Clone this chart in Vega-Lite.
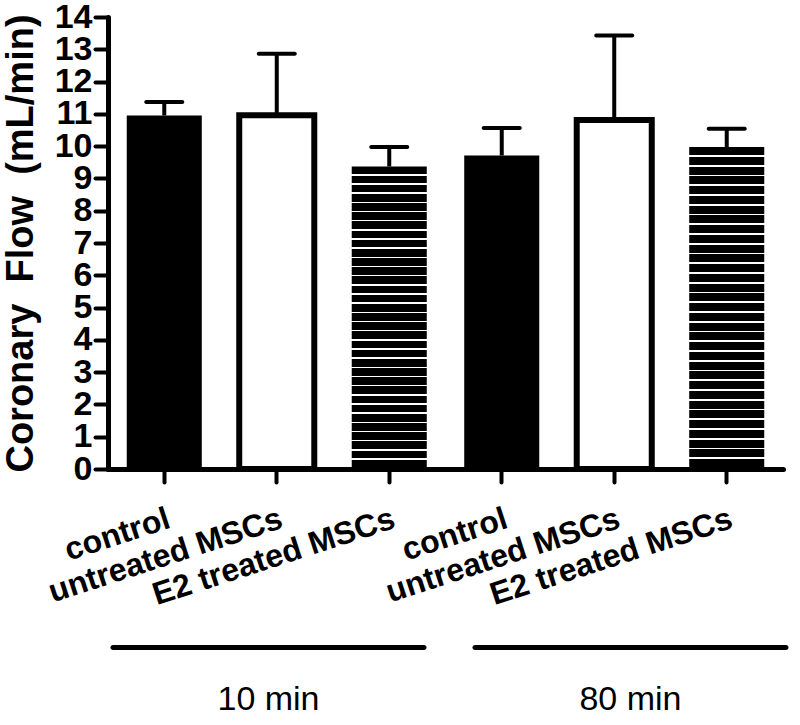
{
  "$schema": "https://vega.github.io/schema/vega-lite/v6.json",
  "background": "white",
  "padding": {"left": 2, "top": 0, "right": 5, "bottom": 5},
  "bounds": "flush",
  "spacing": 176,
  "config": {"view": {"stroke": null}, "font": "Liberation Sans"},
  "vconcat": [
    {
      "width": 675,
      "height": 452,
      "data": {
        "values": [
          {"id": "10 min|control", "time": "10 min", "group": "control", "mean": 10.95, "upper": 11.37},
          {"id": "10 min|untreated MSCs", "time": "10 min", "group": "untreated MSCs", "mean": 10.96, "upper": 12.86},
          {"id": "10 min|E2 treated MSCs", "time": "10 min", "group": "E2 treated MSCs", "mean": 9.37, "upper": 9.97},
          {"id": "80 min|control", "time": "80 min", "group": "control", "mean": 9.71, "upper": 10.56},
          {"id": "80 min|untreated MSCs", "time": "80 min", "group": "untreated MSCs", "mean": 10.81, "upper": 13.43},
          {"id": "80 min|E2 treated MSCs", "time": "80 min", "group": "E2 treated MSCs", "mean": 9.97, "upper": 10.54}
        ]
      },
      "encoding": {
        "x": {
          "field": "id",
          "type": "nominal",
          "sort": ["10 min|control", "10 min|untreated MSCs", "10 min|E2 treated MSCs", "80 min|control", "80 min|untreated MSCs", "80 min|E2 treated MSCs"],
          "scale": {"paddingInner": 0.333, "paddingOuter": 0.1667},
          "axis": {
            "title": null,
            "labelExpr": "split(datum.value, '|')[1]",
            "labelAngle": -18,
            "labelAlign": "right",
            "labelBaseline": "top",
            "labelFont": "Liberation Sans",
            "labelFontSize": 32,
            "labelFontWeight": "bold",
            "labelColor": "#000",
            "labelPadding": 21,
            "labelDx": -6,
            "labelOverlap": false,
            "labelLimit": 1000,
            "tickSize": 13,
            "tickWidth": 4,
            "tickColor": "#000",
            "tickCap": "round",
            "domainColor": "#000",
            "domainWidth": 5,
            "domainCap": "round",
            "zindex": 1
          }
        },
        "y": {
          "field": "mean",
          "type": "quantitative",
          "scale": {"domain": [0, 14], "nice": false},
          "axis": {
            "title": "Coronary\u00a0 Flow\u00a0 (mL/min)",
            "values": [0, 1, 2, 3, 4, 5, 6, 7, 8, 9, 10, 11, 12, 13, 14],
            "grid": false,
            "labelFont": "Liberation Sans",
            "labelFontSize": 34,
            "labelFontWeight": "bold",
            "labelColor": "#000",
            "labelPadding": 3,
            "labelOverlap": false,
            "labelFlush": false,
            "tickSize": 13,
            "tickWidth": 4,
            "tickColor": "#000",
            "tickCap": "round",
            "domainColor": "#000",
            "domainWidth": 5,
            "domainCap": "round",
            "titleFont": "Liberation Sans",
            "titleFontSize": 38,
            "titleFontWeight": "bold",
            "titleColor": "#000",
            "titlePadding": 14,
            "zindex": 1
          }
        }
      },
      "layer": [
        {
          "transform": [{"filter": "datum.group === 'control'"}],
          "mark": {"type": "bar", "fill": "#000", "stroke": null}
        },
        {
          "transform": [{"filter": "datum.group === 'untreated MSCs'"}],
          "mark": {"type": "bar", "fill": "#fff", "stroke": "#000", "strokeWidth": 6}
        },
        {
          "transform": [{"filter": "datum.group === 'E2 treated MSCs'"}],
          "mark": {
            "type": "bar",
            "stroke": null,
            "fill": {
              "gradient": "linear",
              "x1": 0, "y1": 0, "x2": 0, "y2": 1,
              "stops": [
                {"offset": 0, "color": "#000"},
                {"offset": 0.024848, "color": "#000"}, {"offset": 0.024848, "color": "#fff"}, {"offset": 0.030303, "color": "#fff"}, {"offset": 0.030303, "color": "#000"},
                {"offset": 0.055152, "color": "#000"}, {"offset": 0.055152, "color": "#fff"}, {"offset": 0.060606, "color": "#fff"}, {"offset": 0.060606, "color": "#000"},
                {"offset": 0.085455, "color": "#000"}, {"offset": 0.085455, "color": "#fff"}, {"offset": 0.090909, "color": "#fff"}, {"offset": 0.090909, "color": "#000"},
                {"offset": 0.115758, "color": "#000"}, {"offset": 0.115758, "color": "#fff"}, {"offset": 0.121212, "color": "#fff"}, {"offset": 0.121212, "color": "#000"},
                {"offset": 0.146061, "color": "#000"}, {"offset": 0.146061, "color": "#fff"}, {"offset": 0.151515, "color": "#fff"}, {"offset": 0.151515, "color": "#000"},
                {"offset": 0.176364, "color": "#000"}, {"offset": 0.176364, "color": "#fff"}, {"offset": 0.181818, "color": "#fff"}, {"offset": 0.181818, "color": "#000"},
                {"offset": 0.206667, "color": "#000"}, {"offset": 0.206667, "color": "#fff"}, {"offset": 0.212121, "color": "#fff"}, {"offset": 0.212121, "color": "#000"},
                {"offset": 0.23697, "color": "#000"}, {"offset": 0.23697, "color": "#fff"}, {"offset": 0.242424, "color": "#fff"}, {"offset": 0.242424, "color": "#000"},
                {"offset": 0.267273, "color": "#000"}, {"offset": 0.267273, "color": "#fff"}, {"offset": 0.272727, "color": "#fff"}, {"offset": 0.272727, "color": "#000"},
                {"offset": 0.297576, "color": "#000"}, {"offset": 0.297576, "color": "#fff"}, {"offset": 0.30303, "color": "#fff"}, {"offset": 0.30303, "color": "#000"},
                {"offset": 0.327879, "color": "#000"}, {"offset": 0.327879, "color": "#fff"}, {"offset": 0.333333, "color": "#fff"}, {"offset": 0.333333, "color": "#000"},
                {"offset": 0.358182, "color": "#000"}, {"offset": 0.358182, "color": "#fff"}, {"offset": 0.363636, "color": "#fff"}, {"offset": 0.363636, "color": "#000"},
                {"offset": 0.388485, "color": "#000"}, {"offset": 0.388485, "color": "#fff"}, {"offset": 0.393939, "color": "#fff"}, {"offset": 0.393939, "color": "#000"},
                {"offset": 0.418788, "color": "#000"}, {"offset": 0.418788, "color": "#fff"}, {"offset": 0.424242, "color": "#fff"}, {"offset": 0.424242, "color": "#000"},
                {"offset": 0.449091, "color": "#000"}, {"offset": 0.449091, "color": "#fff"}, {"offset": 0.454545, "color": "#fff"}, {"offset": 0.454545, "color": "#000"},
                {"offset": 0.479394, "color": "#000"}, {"offset": 0.479394, "color": "#fff"}, {"offset": 0.484848, "color": "#fff"}, {"offset": 0.484848, "color": "#000"},
                {"offset": 0.509697, "color": "#000"}, {"offset": 0.509697, "color": "#fff"}, {"offset": 0.515152, "color": "#fff"}, {"offset": 0.515152, "color": "#000"},
                {"offset": 0.54, "color": "#000"}, {"offset": 0.54, "color": "#fff"}, {"offset": 0.545455, "color": "#fff"}, {"offset": 0.545455, "color": "#000"},
                {"offset": 0.570303, "color": "#000"}, {"offset": 0.570303, "color": "#fff"}, {"offset": 0.575758, "color": "#fff"}, {"offset": 0.575758, "color": "#000"},
                {"offset": 0.600606, "color": "#000"}, {"offset": 0.600606, "color": "#fff"}, {"offset": 0.606061, "color": "#fff"}, {"offset": 0.606061, "color": "#000"},
                {"offset": 0.630909, "color": "#000"}, {"offset": 0.630909, "color": "#fff"}, {"offset": 0.636364, "color": "#fff"}, {"offset": 0.636364, "color": "#000"},
                {"offset": 0.661212, "color": "#000"}, {"offset": 0.661212, "color": "#fff"}, {"offset": 0.666667, "color": "#fff"}, {"offset": 0.666667, "color": "#000"},
                {"offset": 0.691515, "color": "#000"}, {"offset": 0.691515, "color": "#fff"}, {"offset": 0.69697, "color": "#fff"}, {"offset": 0.69697, "color": "#000"},
                {"offset": 0.721818, "color": "#000"}, {"offset": 0.721818, "color": "#fff"}, {"offset": 0.727273, "color": "#fff"}, {"offset": 0.727273, "color": "#000"},
                {"offset": 0.752121, "color": "#000"}, {"offset": 0.752121, "color": "#fff"}, {"offset": 0.757576, "color": "#fff"}, {"offset": 0.757576, "color": "#000"},
                {"offset": 0.782424, "color": "#000"}, {"offset": 0.782424, "color": "#fff"}, {"offset": 0.787879, "color": "#fff"}, {"offset": 0.787879, "color": "#000"},
                {"offset": 0.812727, "color": "#000"}, {"offset": 0.812727, "color": "#fff"}, {"offset": 0.818182, "color": "#fff"}, {"offset": 0.818182, "color": "#000"},
                {"offset": 0.84303, "color": "#000"}, {"offset": 0.84303, "color": "#fff"}, {"offset": 0.848485, "color": "#fff"}, {"offset": 0.848485, "color": "#000"},
                {"offset": 0.873333, "color": "#000"}, {"offset": 0.873333, "color": "#fff"}, {"offset": 0.878788, "color": "#fff"}, {"offset": 0.878788, "color": "#000"},
                {"offset": 0.903636, "color": "#000"}, {"offset": 0.903636, "color": "#fff"}, {"offset": 0.909091, "color": "#fff"}, {"offset": 0.909091, "color": "#000"},
                {"offset": 0.933939, "color": "#000"}, {"offset": 0.933939, "color": "#fff"}, {"offset": 0.939394, "color": "#fff"}, {"offset": 0.939394, "color": "#000"},
                {"offset": 0.964242, "color": "#000"}, {"offset": 0.964242, "color": "#fff"}, {"offset": 0.969697, "color": "#fff"}, {"offset": 0.969697, "color": "#000"},
                {"offset": 0.994545, "color": "#000"}, {"offset": 0.994545, "color": "#fff"}, {"offset": 1, "color": "#fff"}
              ]
            }
          }
        },
        {
          "mark": {"type": "rule", "color": "#000", "strokeWidth": 4},
          "encoding": {"y2": {"field": "upper"}}
        },
        {
          "mark": {"type": "tick", "color": "#000", "size": 40, "thickness": 4, "cornerRadius": 2, "opacity": 1},
          "encoding": {
            "y": {"field": "upper", "type": "quantitative", "title": "Coronary\u00a0 Flow\u00a0 (mL/min)"}
          }
        }
      ]
    },
    {
      "width": 683,
      "height": 5,
      "data": {"values": [{"time": "10 min"}, {"time": "80 min"}]},
      "mark": {"type": "bar", "color": "#000", "cornerRadius": 2.5},
      "encoding": {
        "x": {
          "field": "time",
          "type": "nominal",
          "sort": null,
          "scale": {"paddingInner": 0.127, "paddingOuter": 0.0069},
          "axis": {
            "title": null,
            "labelAngle": 0,
            "labelFont": "Liberation Sans",
            "labelFontSize": 34,
            "labelFontWeight": "normal",
            "labelColor": "#000",
            "labelPadding": 32,
            "ticks": false,
            "domain": false
          }
        },
        "y": {"datum": 1, "type": "quantitative", "scale": {"domain": [0, 1]}, "axis": null},
        "y2": {"datum": 0}
      }
    }
  ]
}
